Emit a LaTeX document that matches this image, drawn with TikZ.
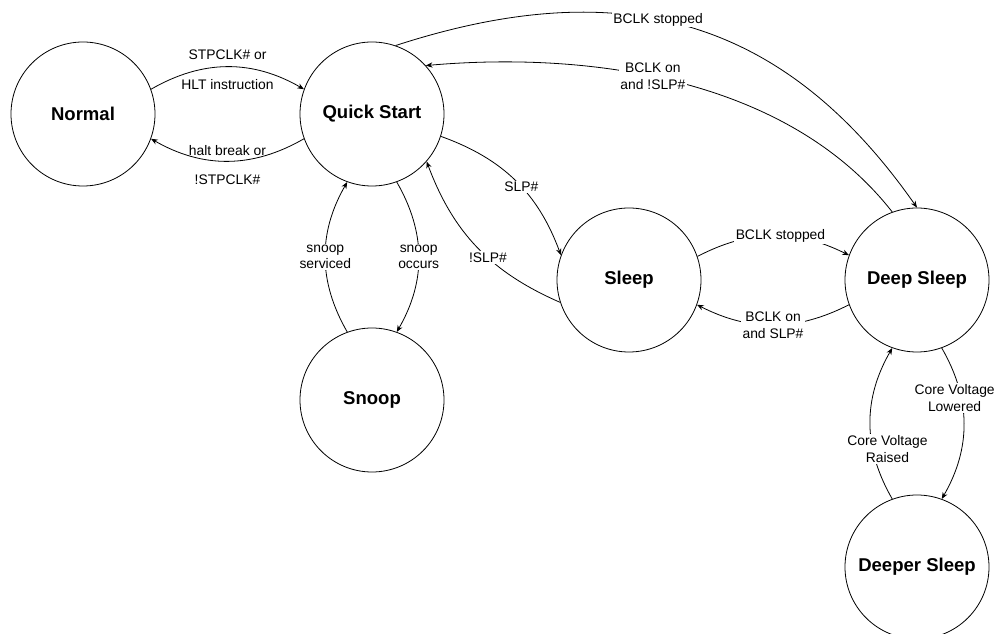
\documentclass[tikz,border=0pt]{standalone}
\usepackage{fontspec}
\setmainfont{Liberation Sans}
\usetikzlibrary{arrows.meta}
\tikzset{
	state/.style={draw, circle, minimum size=108pt, inner sep=0pt, font=\fontsize{13.9}{16}\selectfont\bfseries},
	trans/.style={line width=0.6pt, -{Stealth[length=5pt,width=4pt]}},
	lbl/.style={font=\fontsize{10.4}{12.5}\selectfont, align=center, inner sep=1pt},
	wlbl/.style={lbl, fill=white}
}

\begin{document}
\begin{tikzpicture}[x=0.75pt, y=0.75pt, line width=0.6pt]
			%%%%% START %%%%%
			\useasboundingbox (0, 0) rectangle (997, -634);
			\clip (0, 0) rectangle (997, -634);
			
			\node[state] (normal) at (83, -114) {Normal};
			\node[state] (quick) at (372, -114) {Quick Start};
			\node[state] (snoop) at (372, -400) {Snoop};
			\node[state] (sleep) at (629, -280) {Sleep};
			\node[state] (deep) at (917, -280) {Deep Sleep};
			\node[state] (deeper) at (917, -567) {Deeper Sleep};
			
			% normal <-> quick start
			\draw[trans] (normal.20) to[bend left=30]
				node[pos=0.5, above=4pt, lbl] {STPCLK\# or}
				node[pos=0.5, below=8pt, lbl] {HLT instruction} (quick.160);
			\draw[trans] (quick.200) to[bend left=30]
				node[pos=0.5, above=3pt, lbl] {halt break or}
				node[pos=0.5, below=9pt, lbl] {!STPCLK\#} (normal.-20);
			
			% quick start <-> snoop
			\draw[trans] (quick.-70) to[bend left=30] node[pos=0.5, wlbl] {snoop\\occurs} (snoop.70);
			\draw[trans] (snoop.110) to[bend left=30] node[pos=0.5, wlbl] {snoop\\serviced} (quick.250);
			
			% quick start <-> sleep
			\draw[trans] (quick.-18) to[bend left=25] node[pos=0.55, wlbl] {SLP\#} (sleep.160);
			\draw[trans] (sleep.198) to[bend left=23] node[pos=0.42, wlbl] {!SLP\#} (quick.-41);
			
			% sleep <-> deep sleep
			\draw[trans] (sleep.19) to[bend left=27] node[pos=0.55, wlbl] {BCLK stopped} (deep.160);
			\draw[trans] (deep.200) to[bend left=27] node[pos=0.5, wlbl] {BCLK on\\and SLP\#} (sleep.-20);
			
			% quick start <-> deep sleep
			\draw[trans] (quick.71) to[out=18, in=125, looseness=1.1]
				node[pos=0.44, wlbl] {BCLK stopped} (deep.90);
			\draw[trans] (deep.110) to[out=128, in=5, looseness=0.88]
				node[pos=0.56, wlbl] {BCLK on\\and !SLP\#} (quick.42);
			
			% deep sleep <-> deeper sleep
			\draw[trans] (deep.-70) to[bend left=30] node[pos=0.33, wlbl, xshift=-5pt] {Core Voltage\\Lowered} (deeper.70);
			\draw[trans] (deeper.110) to[bend left=30] node[pos=0.33, wlbl, xshift=11pt] {Core Voltage\\Raised} (deep.250);
			
			%%%%% END %%%%%
\end{tikzpicture}
\end{document}
